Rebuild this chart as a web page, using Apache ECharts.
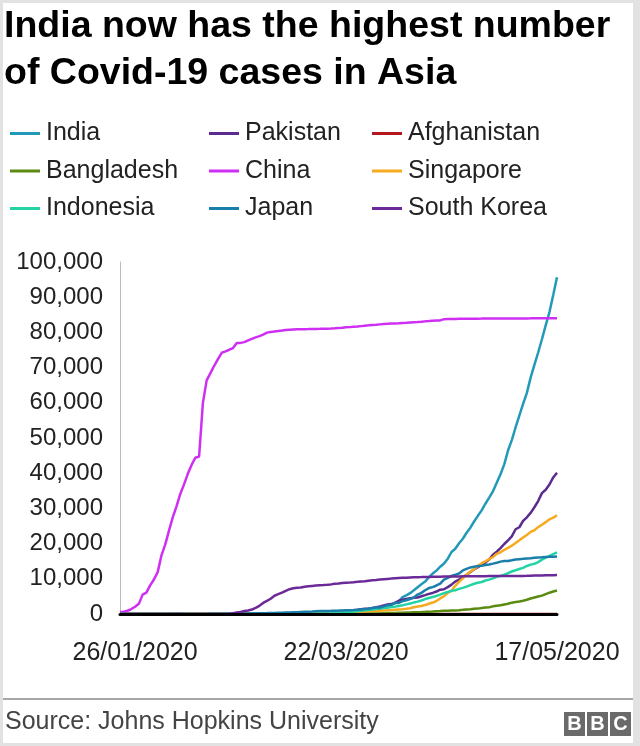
<!DOCTYPE html>
<html>
<head>
<meta charset="utf-8">
<script src="https://cdn.jsdelivr.net/npm/echarts@6/dist/echarts.min.js"></script>
<style>
  html, body { margin: 0; padding: 0; background: #e2e2e2; }
  #chart { width: 640px; height: 746px; }
</style>
</head>
<body>
<div id="chart"></div>
<script>
// daily cumulative confirmed cases, 22/01/2020 .. 17/05/2020 (117 days)
const firstDay = new Date(Date.UTC(2020, 0, 22));
const dayCount = 117;
const dates = [];
for (let i = 0; i < dayCount; i++) {
    const d = new Date(firstDay.getTime() + i * 86400000);
    const dd = String(d.getUTCDate()).padStart(2, '0');
    const mm = String(d.getUTCMonth() + 1).padStart(2, '0');
    dates.push(dd + '/' + mm + '/' + d.getUTCFullYear());
}

const yTicks = [0, 10000, 20000, 30000, 40000, 50000, 60000, 70000, 80000, 90000, 100000];

const india = [
    0, 0, 0, 0, 0, 0, 0, 0, 1, 1,
    1, 2, 3, 3, 3, 3, 3, 3, 3, 3, 3, 3, 3, 3, 3, 3, 3, 3, 3, 3, 3, 3, 3, 3, 3, 3, 3, 3, 3,
    3, 5, 5, 28, 30, 31, 34, 39, 43, 56, 62, 73, 82, 102, 113, 119, 142, 156, 194, 244, 330, 396, 499, 536, 657, 727, 887, 987, 1024, 1251, 1397,
    1998, 2543, 2567, 3082, 3588, 4778, 5311, 5916, 6725, 7598, 8446, 9205, 10453, 11487, 12322, 13430, 14352, 15722, 17615, 18539, 20080, 21370, 23077, 24530, 26283, 27890, 29451, 31324, 33062, 34863,
    37257, 39699, 42505, 46437, 49400, 52987, 56351, 59695, 62808, 67161, 70768, 74292, 78055, 81997, 85784, 90648, 95698
];
const pakistan = [
    0, 0, 0, 0, 0, 0, 0, 0, 0, 0,
    0, 0, 0, 0, 0, 0, 0, 0, 0, 0, 0, 0, 0, 0, 0, 0, 0, 0, 0, 0, 0, 0, 0, 0, 0, 2, 2, 2, 2,
    4, 4, 5, 5, 5, 6, 6, 6, 16, 19, 20, 28, 31, 53, 136, 236, 299, 454, 501, 730, 776, 875, 972, 1063, 1201, 1373, 1495, 1597, 1717, 1938, 2118,
    2421, 2686, 2818, 3157, 3766, 4035, 4263, 4489, 4601, 4695, 5038, 5374, 5716, 5988, 6383, 6919, 7025, 7638, 8348, 9216, 9749, 10513, 11155, 11940, 12657, 13328, 13915, 14612, 15525, 16817,
    17699, 18694, 19886, 20941, 22049, 24073, 24644, 26435, 27474, 28736, 30334, 32081, 34336, 35298, 36788, 38799, 40151
];
const afghanistan = [
    0, 0, 0, 0, 0, 0, 0, 0, 0, 0,
    0, 0, 0, 0, 0, 0, 0, 0, 0, 0, 0, 0, 0, 0, 0, 0, 0, 0, 0, 0, 0, 0, 0, 0, 0, 0, 0, 0, 0,
    0, 0, 0, 0, 0, 0, 0, 0, 0, 0, 0, 0, 0, 0, 0, 0, 0, 0, 0, 0, 0, 0, 0, 0, 0, 0, 0, 0, 0, 0, 0,
    0, 0, 0, 0, 0, 0, 0, 0, 0, 0, 0, 0, 0, 0, 0, 0, 0, 0, 0, 0, 0, 0, 0, 0, 0, 0, 0, 0, 0, 0,
    0, 0, 0, 0, 0, 0, 0, 0, 0, 0, 0, 0, 0, 0, 0, 0, 0
];
const bangladesh = [
    0, 0, 0, 0, 0, 0, 0, 0, 0, 0,
    0, 0, 0, 0, 0, 0, 0, 0, 0, 0, 0, 0, 0, 0, 0, 0, 0, 0, 0, 0, 0, 0, 0, 1, 1, 1, 1, 1, 1,
    1, 1, 1, 1, 1, 1, 1, 4, 4, 5, 7, 7, 7, 11, 16, 21, 22, 22, 22, 24, 24, 40, 40, 74, 84, 94, 110, 110, 120, 170, 174,
    237, 273, 281, 299, 349, 367, 423, 444, 484, 521, 555, 607, 665, 714, 784, 840, 906, 933, 996, 1026, 1092, 1176, 1279, 1351, 1463, 1531, 1703, 1828, 1939, 2171,
    2335, 2469, 2704, 2894, 3224, 3392, 3563, 3778, 4033, 4402, 4687, 4963, 5226, 5639, 6053, 6402, 6664
];
const china = [
    548, 643, 920, 1406, 2075, 2877, 5509, 6087, 8141, 9802,
    11891, 16630, 19716, 23707, 27440, 30587, 34110, 36814, 39829, 42354, 44386, 44759, 59895, 66358, 68413, 70513, 72434, 74211, 74619, 75077, 75550, 77001, 77022, 77241, 77754, 78166, 78600, 78928, 79356,
    79932, 80136, 80261, 80386, 80537, 80690, 80770, 80823, 80860, 80887, 80921, 80932, 80945, 80977, 81003, 81033, 81058, 81102, 81156, 81250, 81305, 81435, 81498, 81591, 81661, 81782, 81897, 81999, 82122, 82198, 82279,
    82361, 82432, 82511, 82543, 82602, 82665, 82718, 82809, 82883, 82941, 83014, 83134, 83213, 83306, 83356, 83403, 83760, 83787, 83805, 83817, 83853, 83868, 83884, 83899, 83909, 83912, 83918, 83940, 83944, 83956,
    83959, 83959, 83964, 83966, 83968, 83970, 83970, 83975, 83976, 83990, 84010, 84011, 84018, 84024, 84029, 84038, 84044
];
const singapore = [
    0, 1, 3, 3, 4, 5, 7, 7, 10, 13,
    16, 18, 18, 24, 28, 28, 30, 33, 40, 45, 47, 50, 58, 67, 72, 75, 77, 81, 84, 84, 85, 85, 89, 89, 91, 93, 93, 93, 102,
    106, 108, 110, 110, 117, 130, 138, 150, 150, 160, 178, 178, 200, 212, 226, 243, 266, 313, 345, 385, 432, 455, 509, 558, 631, 683, 732, 802, 844, 879, 926,
    1000, 1049, 1114, 1189, 1309, 1375, 1481, 1623, 1910, 2108, 2299, 2532, 2918, 3252, 3699, 4427, 5050, 5992, 6588, 8014, 9125, 10141, 11178, 12075, 12693, 13624, 14423, 14951, 15641, 16169,
    17101, 17548, 18205, 18778, 19410, 20198, 20939, 21707, 22460, 23336, 23787, 24671, 25346, 26098, 26891, 27356, 28038
];
const indonesia = [
    0, 0, 0, 0, 0, 0, 0, 0, 0, 0,
    0, 0, 0, 0, 0, 0, 0, 0, 0, 0, 0, 0, 0, 0, 0, 0, 0, 0, 0, 0, 0, 0, 0, 0, 0, 0, 0, 0, 0,
    0, 2, 2, 2, 2, 4, 4, 6, 19, 27, 34, 34, 69, 96, 117, 134, 172, 227, 311, 369, 450, 514, 579, 686, 790, 893, 1046, 1155, 1285, 1414, 1528,
    1677, 1790, 1986, 2092, 2273, 2491, 2738, 2956, 3293, 3512, 3842, 4241, 4557, 4839, 5136, 5516, 5923, 6248, 6575, 6760, 7135, 7418, 7775, 8211, 8607, 8882, 9096, 9511, 9771, 10118,
    10551, 10843, 11192, 11587, 12071, 12438, 12776, 13112, 13645, 14032, 14265, 14749, 15438, 16006, 16496, 17025, 17514
];
const japan = [
    2, 1, 2, 2, 4, 4, 7, 7, 11, 15,
    20, 20, 20, 22, 22, 45, 25, 25, 26, 26, 26, 28, 28, 29, 43, 59, 66, 74, 84, 94, 105, 122, 147, 159, 170, 189, 214, 228, 241,
    256, 274, 293, 331, 360, 420, 461, 502, 511, 581, 639, 639, 701, 773, 839, 839, 878, 889, 924, 963, 1007, 1086, 1086, 1128, 1193, 1307, 1387, 1468, 1693, 1866, 1866,
    2178, 2495, 2617, 3139, 3139, 3654, 3906, 4257, 4667, 5530, 6005, 6748, 7370, 7645, 8100, 8626, 9787, 10296, 10797, 11135, 11512, 12368, 12829, 13231, 13441, 13614, 13736, 13895, 14088, 14305,
    14571, 14877, 15078, 15078, 15253, 15477, 15575, 15663, 15777, 15847, 15968, 16049, 16120, 16203, 16237, 16285, 16305
];
const southKorea = [
    1, 1, 2, 2, 3, 4, 4, 4, 4, 11,
    12, 15, 15, 16, 19, 23, 24, 24, 25, 27, 28, 28, 28, 28, 28, 29, 30, 31, 31, 104, 204, 433, 602, 833, 977, 1261, 1766, 2337, 3150,
    3736, 4335, 5186, 5621, 6088, 6593, 7041, 7314, 7478, 7513, 7755, 7869, 7979, 8086, 8162, 8236, 8320, 8413, 8565, 8652, 8799, 8897, 8961, 9037, 9137, 9241, 9332, 9478, 9583, 9661, 9786,
    9887, 9976, 10062, 10156, 10237, 10284, 10331, 10384, 10423, 10450, 10480, 10512, 10537, 10564, 10591, 10613, 10635, 10653, 10661, 10674, 10683, 10694, 10702, 10708, 10718, 10728, 10738, 10752, 10761, 10765,
    10774, 10780, 10793, 10801, 10804, 10806, 10810, 10822, 10840, 10874, 10909, 10936, 10962, 10991, 11018, 11037, 11050
];

const countries = [
    { name: 'India', data: india, color: '#2299b9' },
    { name: 'Pakistan', data: pakistan, color: '#5c2b8f' },
    { name: 'Afghanistan', data: afghanistan, color: '#b5171f' },
    { name: 'Bangladesh', data: bangladesh, color: '#5a8a10' },
    { name: 'China', data: china, color: '#cf2ff3' },
    { name: 'Singapore', data: singapore, color: '#f6aa1f' },
    { name: 'Indonesia', data: indonesia, color: '#24d3a5' },
    { name: 'Japan', data: japan, color: '#1a7eaa' },
    { name: 'South Korea', data: southKorea, color: '#6b2a98' }
];

const legendColumns = [
    ['India', 'Bangladesh', 'Indonesia'],
    ['Pakistan', 'China', 'Japan'],
    ['Afghanistan', 'Singapore', 'South Korea']
];
const legendLeft = [10, 209, 372];

const font = '"Liberation Sans", Arial, sans-serif';

var myChart = echarts.init(document.getElementById('chart'));

var option = {
    animation: false,
    backgroundColor: '#e2e2e2',
    textStyle: { fontFamily: font },
    color: countries.map((c) => c.color),
    title: {
        text: 'India now has the highest number\nof Covid-19 cases in Asia',
        left: 4,
        top: 3,
        padding: 0,
        textStyle: {
            fontFamily: font,
            fontWeight: 'bold',
            fontSize: 37.5,
            lineHeight: 47,
            color: '#000'
        }
    },
    legend: legendColumns.map((names, i) => ({
        data: names,
        orient: 'vertical',
        left: legendLeft[i],
        top: 121,
        padding: 0,
        itemWidth: 30,
        itemHeight: 3,
        itemGap: 12.5,
        icon: 'rect',
        selectedMode: false,
        textStyle: {
            fontFamily: font,
            fontSize: 25,
            lineHeight: 25,
            color: '#222',
            padding: [0, 0, 0, 1]
        }
    })),
    grid: {
        left: 120,
        top: 262,
        right: 83,
        bottom: 132,
        containLabel: false
    },
    xAxis: {
        type: 'category',
        boundaryGap: false,
        data: dates,
        z: 5,
        axisLine: { lineStyle: { color: '#000', width: 3 } },
        axisTick: { show: false },
        axisLabel: {
            interval: (index) => index % 56 === 4,
            margin: 27,
            fontSize: 25,
            color: '#222',
            fontFamily: font
        },
        splitLine: { show: false }
    },
    yAxis: {
        type: 'value',
        min: yTicks[0],
        max: yTicks[yTicks.length - 1],
        interval: 10000,
        axisLine: { show: true, lineStyle: { color: '#bbb', width: 1 } },
        axisTick: { show: false },
        splitLine: { show: false },
        axisLabel: {
            margin: 17,
            fontSize: 24,
            color: '#222',
            fontFamily: font,
            formatter: (v) => v.toLocaleString('en-US')
        }
    },
    graphic: [
        {
            type: 'rect',
            z: -10,
            shape: { x: 3, y: 3, width: 630, height: 740 },
            style: { fill: '#fff' }
        },
        {
            type: 'line',
            shape: { x1: 3, y1: 699, x2: 633, y2: 699 },
            style: { stroke: '#888', lineWidth: 1.5 }
        },
        {
            type: 'text',
            left: 5,
            top: 710,
            style: { text: 'Source: Johns Hopkins University', font: '25px ' + font, fill: '#444' }
        },
        ...['B', 'B', 'C'].map((ch, i) => ({
            type: 'group',
            left: 564 + i * 23,
            top: 712,
            children: [
                { type: 'rect', shape: { x: 0, y: 0, width: 21, height: 24 }, style: { fill: '#6a6a6a' } },
                {
                    type: 'text',
                    x: 10.5,
                    y: 12.5,
                    style: {
                        text: ch,
                        font: 'bold 20px ' + font,
                        fill: '#fff',
                        align: 'center',
                        verticalAlign: 'middle'
                    }
                }
            ]
        }))
    ],
    series: countries.map((c) => ({
        name: c.name,
        type: 'line',
        data: c.data,
        showSymbol: false,
        symbol: 'none',
        lineStyle: { width: 2.5, color: c.color },
        itemStyle: { color: c.color }
    }))
};

option && myChart.setOption(option);
</script>
</body>
</html>
